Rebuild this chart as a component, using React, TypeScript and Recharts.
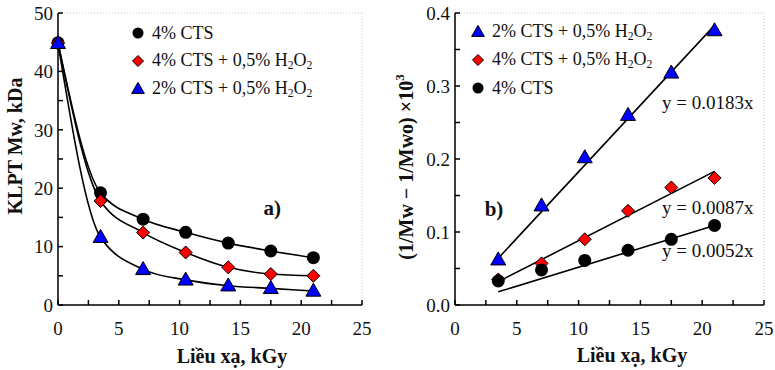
import React from 'react';
import {
  ComposedChart,
  Line,
  Scatter,
  XAxis,
  YAxis,
  CartesianGrid,
  Legend,
  Label,
  ReferenceDot,
} from 'recharts';

// panel a) : molecular weight vs dose
const doses = [0, 3.5, 7, 10.5, 14, 17.5, 21];
const mwCts4 = [44.9, 19.2, 14.7, 12.45, 10.6, 9.25, 8.1];
const mwCts4H = [44.9, 17.8, 12.4, 9.0, 6.45, 5.3, 5.0];
const mwCts2H = [44.8, 11.6, 6.1, 4.3, 3.3, 2.85, 2.4];

// panel b) : (1/Mw - 1/Mwo) x 10^3 vs dose
const dosesB = [3.5, 7, 10.5, 14, 17.5, 21];
const invCts2H = [0.062, 0.136, 0.202, 0.26, 0.318, 0.376];
const invCts4H = [0.035, 0.057, 0.09, 0.129, 0.161, 0.174];
const invCts4 = [0.033, 0.048, 0.061, 0.075, 0.09, 0.109];

// fitted lines, end points
const fitX = [3.5, 21];
const fitCts2H = [0.064, 0.383];
const fitCts4H = [0.032, 0.183];
const fitCts4 = [0.018, 0.109];

const xTicks = [0, 2.5, 5, 7.5, 10, 12.5, 15, 17.5, 20, 22.5, 25];
const xMajor = [0, 5, 10, 15, 20, 25];
const yTicksA = [0, 5, 10, 15, 20, 25, 30, 35, 40, 45, 50];
const yMajorA = [0, 10, 20, 30, 40, 50];
const yTicksB = [0, 0.05, 0.1, 0.15, 0.2, 0.25, 0.3, 0.35, 0.4];
const yMajorB = [0, 0.1, 0.2, 0.3, 0.4];

const pts = (xs: number[], ys: number[]) => xs.map((x, i) => ({ x, y: ys[i] }));

const FONT = "'Liberation Serif', 'Times New Roman', serif";
const tickStyle = { fontFamily: FONT, fontSize: 19, fill: '#111', style: { fontFamily: FONT } };

type Kind = 'circle' | 'diamond' | 'triangle';

function Marker({ kind, cx, cy, s = 1 }: { kind: Kind; cx: number; cy: number; s?: number }) {
  if (kind === 'circle') return <circle cx={cx} cy={cy} r={6.5 * s} fill="#000" />;
  if (kind === 'diamond') {
    const d = 6.5 * s;
    return (
      <polygon
        points={`${cx},${cy - d} ${cx + d},${cy} ${cx},${cy + d} ${cx - d},${cy}`}
        fill="#ff0000"
        stroke="#000"
        strokeWidth={1}
      />
    );
  }
  const w = 7.5 * s;
  const h = 13 * s;
  return (
    <polygon
      points={`${cx},${cy - h * 0.6} ${cx + w},${cy + h * 0.4} ${cx - w},${cy + h * 0.4}`}
      fill="#0000ff"
      stroke="#000"
      strokeWidth={1}
    />
  );
}

const H2O2 = (
  <>
    H<sub style={{ fontSize: '0.65em', verticalAlign: '-0.25em' }}>2</sub>O
    <sub style={{ fontSize: '0.65em', verticalAlign: '-0.25em' }}>2</sub>
  </>
);

function LegendBox({ items }: { items: { kind: Kind; label: React.ReactNode }[] }) {
  return (
    <div style={{ fontFamily: FONT, fontSize: 18, color: '#111' }}>
      {items.map((it, i) => (
        <div key={i} style={{ display: 'flex', alignItems: 'center', height: 28 }}>
          <svg width={16} height={16} style={{ marginRight: 6 }}>
            <Marker kind={it.kind} cx={8} cy={8} s={0.85} />
          </svg>
          <span style={{ whiteSpace: 'nowrap' }}>{it.label}</span>
        </div>
      ))}
    </div>
  );
}

const textLabel = (value: string, size: number, bold = false) => (props: any) => {
  const { x, y } = props.viewBox;
  return (
    <text
      x={x}
      y={y}
      fontFamily={FONT}
      fontSize={size}
      fontWeight={bold ? 'bold' : 'normal'}
      fill="#111"
      dominantBaseline="central"
    >
      {value}
    </text>
  );
};

function PanelA() {
  return (
    <ComposedChart width={385} height={370} margin={{ top: 13, right: 23, bottom: 0, left: 0 }}>
      <CartesianGrid xAxisId="top" yAxisId="right" stroke="#c8c8c8" strokeDasharray="1 2" />
      <XAxis
        xAxisId="top"
        orientation="top"
        type="number"
        domain={[0, 25]}
        ticks={xMajor}
        height={0}
        tick={false}
        tickLine={false}
        axisLine={{ stroke: '#000', strokeWidth: 1.5 }}
      />
      <YAxis
        yAxisId="right"
        orientation="right"
        type="number"
        domain={[0, 50]}
        ticks={yMajorA}
        width={0}
        tick={false}
        tickLine={false}
        axisLine={{ stroke: '#000', strokeWidth: 1.5 }}
      />
      <XAxis
        dataKey="x"
        type="number"
        domain={[0, 25]}
        ticks={xTicks}
        interval={0}
        height={65}
        tickSize={-5}
        tickMargin={22}
        tick={tickStyle}
        tickFormatter={(v: number) => (v % 5 === 0 ? String(v) : '')}
        axisLine={{ stroke: '#000', strokeWidth: 1.5 }}
        tickLine={{ stroke: '#000', strokeWidth: 1.5 }}
      >
        <Label
          content={() => (
            <text x={232} y={363} textAnchor="middle" fontFamily={FONT} fontSize={20} fontWeight="bold" fill="#111">
              Liều xạ, kGy
            </text>
          )}
        />
      </XAxis>
      <YAxis
        dataKey="y"
        type="number"
        domain={[0, 50]}
        ticks={yTicksA}
        interval={0}
        width={58}
        tickSize={-5}
        tickMargin={10}
        tick={tickStyle}
        tickFormatter={(v: number) => (v % 10 === 0 ? String(v) : '')}
        axisLine={{ stroke: '#000', strokeWidth: 1.5 }}
        tickLine={{ stroke: '#000', strokeWidth: 1.5 }}
      >
        <Label
          content={() => (
            <text
              x={15}
              y={146}
              textAnchor="middle"
              dominantBaseline="central"
              transform="rotate(-90 15 146)"
              fontFamily={FONT}
              fontSize={20}
              fontWeight="bold"
              fill="#111"
            >
              KLPT Mw, kDa
            </text>
          )}
        />
      </YAxis>
      <Line data={pts(doses, mwCts4)} dataKey="y" type="monotone" stroke="#000" strokeWidth={1.6} dot={false} isAnimationActive={false} />
      <Line data={pts(doses, mwCts4H)} dataKey="y" type="monotone" stroke="#000" strokeWidth={1.6} dot={false} isAnimationActive={false} />
      <Line data={pts(doses, mwCts2H)} dataKey="y" type="monotone" stroke="#000" strokeWidth={1.6} dot={false} isAnimationActive={false} />
      <Scatter data={pts(doses, mwCts4)} dataKey="y" isAnimationActive={false} shape={(p: any) => <Marker kind="circle" cx={p.cx} cy={p.cy} />} />
      <Scatter data={pts(doses, mwCts4H)} dataKey="y" isAnimationActive={false} shape={(p: any) => <Marker kind="diamond" cx={p.cx} cy={p.cy} />} />
      <Scatter data={pts(doses, mwCts2H)} dataKey="y" isAnimationActive={false} shape={(p: any) => <Marker kind="triangle" cx={p.cx} cy={p.cy} />} />
      <ReferenceDot x={16.9} y={16.6} r={0} stroke="none" fill="none" label={textLabel('a)', 21, true)} />
      <Legend
        layout="vertical"
        align="center"
        verticalAlign="middle"
        wrapperStyle={{ left: 130, top: 19, width: 230, height: 90 }}
        content={() => (
          <LegendBox
            items={[
              { kind: 'circle', label: '4% CTS' },
              { kind: 'diamond', label: <>4% CTS + 0,5% {H2O2}</> },
              { kind: 'triangle', label: <>2% CTS + 0,5% {H2O2}</> },
            ]}
          />
        )}
      />
    </ComposedChart>
  );
}

function PanelB() {
  return (
    <ComposedChart width={390} height={370} margin={{ top: 13, right: 11, bottom: 0, left: 0 }}>
      <CartesianGrid xAxisId="top" yAxisId="right" stroke="#c8c8c8" strokeDasharray="1 2" />
      <XAxis
        xAxisId="top"
        orientation="top"
        type="number"
        domain={[0, 25]}
        ticks={xMajor}
        height={0}
        tick={false}
        tickLine={false}
        axisLine={{ stroke: '#000', strokeWidth: 1.5 }}
      />
      <YAxis
        yAxisId="right"
        orientation="right"
        type="number"
        domain={[0, 0.4]}
        ticks={yMajorB}
        width={0}
        tick={false}
        tickLine={false}
        axisLine={{ stroke: '#000', strokeWidth: 1.5 }}
      />
      <XAxis
        dataKey="x"
        type="number"
        domain={[0, 25]}
        ticks={xTicks}
        interval={0}
        height={65}
        tickSize={-5}
        tickMargin={22}
        tick={tickStyle}
        tickFormatter={(v: number) => (v % 5 === 0 ? String(v) : '')}
        axisLine={{ stroke: '#000', strokeWidth: 1.5 }}
        tickLine={{ stroke: '#000', strokeWidth: 1.5 }}
      >
        <Label
          content={() => (
            <text x={247} y={362} textAnchor="middle" fontFamily={FONT} fontSize={20} fontWeight="bold" fill="#111">
              Liều xạ, kGy
            </text>
          )}
        />
      </XAxis>
      <YAxis
        dataKey="y"
        type="number"
        domain={[0, 0.4]}
        ticks={yTicksB}
        interval={0}
        width={70}
        tickSize={-5}
        tickMargin={10}
        tick={tickStyle}
        tickFormatter={(v: number) => (yMajorB.some((m) => Math.abs(m - v) < 1e-9) ? v.toFixed(1) : '')}
        axisLine={{ stroke: '#000', strokeWidth: 1.5 }}
        tickLine={{ stroke: '#000', strokeWidth: 1.5 }}
      >
        <Label
          content={() => (
            <text
              x={21}
              y={167}
              textAnchor="middle"
              dominantBaseline="central"
              transform="rotate(-90 21 167)"
              fontFamily={FONT}
              fontSize={20}
              fontWeight="bold"
              fill="#111"
            >
              (1/Mw − 1/Mwo) ×10
              <tspan dy={-7} fontSize={13}>3</tspan>
            </text>
          )}
        />
      </YAxis>
      <Line data={pts(fitX, fitCts2H)} dataKey="y" type="linear" stroke="#000" strokeWidth={1.6} dot={false} isAnimationActive={false} />
      <Line data={pts(fitX, fitCts4H)} dataKey="y" type="linear" stroke="#000" strokeWidth={1.6} dot={false} isAnimationActive={false} />
      <Line data={pts(fitX, fitCts4)} dataKey="y" type="linear" stroke="#000" strokeWidth={1.6} dot={false} isAnimationActive={false} />
      <Scatter data={pts(dosesB, invCts2H)} dataKey="y" isAnimationActive={false} shape={(p: any) => <Marker kind="triangle" cx={p.cx} cy={p.cy} />} />
      <Scatter data={pts(dosesB, invCts4H)} dataKey="y" isAnimationActive={false} shape={(p: any) => <Marker kind="diamond" cx={p.cx} cy={p.cy} />} />
      <Scatter data={pts(dosesB, invCts4)} dataKey="y" isAnimationActive={false} shape={(p: any) => <Marker kind="circle" cx={p.cx} cy={p.cy} />} />
      <ReferenceDot x={2.4} y={0.1315} r={0} stroke="none" fill="none" label={textLabel('b)', 21, true)} />
      <ReferenceDot x={16.75} y={0.278} r={0} stroke="none" fill="none" label={textLabel('y = 0.0183x', 19)} />
      <ReferenceDot x={16.75} y={0.134} r={0} stroke="none" fill="none" label={textLabel('y = 0.0087x', 19)} />
      <ReferenceDot x={16.75} y={0.074} r={0} stroke="none" fill="none" label={textLabel('y = 0.0052x', 19)} />
      <Legend
        layout="vertical"
        align="center"
        verticalAlign="middle"
        wrapperStyle={{ left: 85, top: 18, width: 240, height: 90 }}
        content={() => (
          <LegendBox
            items={[
              { kind: 'triangle', label: <>2% CTS + 0,5% {H2O2}</> },
              { kind: 'diamond', label: <>4% CTS + 0,5% {H2O2}</> },
              { kind: 'circle', label: '4% CTS' },
            ]}
          />
        )}
      />
    </ComposedChart>
  );
}

export default function App() {
  return (
    <div
      style={{
        position: 'absolute',
        left: 0,
        top: 0,
        width: 775,
        height: 370,
        background: '#fff',
        fontFamily: FONT,
      }}
    >
      <div style={{ position: 'absolute', left: 0, top: 0 }}>
        <PanelA />
      </div>
      <div style={{ position: 'absolute', left: 385, top: 0 }}>
        <PanelB />
      </div>
    </div>
  );
}
